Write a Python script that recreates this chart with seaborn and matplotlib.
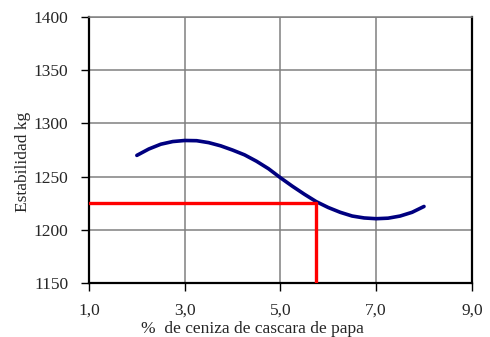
import pandas as pd
import matplotlib
matplotlib.use("Agg")
import matplotlib.pyplot as plt
import seaborn as sns

# values
ceniza = [2.0, 2.25, 2.5, 2.75, 3.0, 3.25, 3.5, 3.75, 4.0, 4.25, 4.5, 4.75, 5.0,
          5.25, 5.5, 5.75, 6.0, 6.25, 6.5, 6.75, 7.0, 7.25, 7.5, 7.75, 8.0]
estabilidad = [1270, 1276, 1280.5, 1283, 1284, 1283.8, 1282, 1279, 1275, 1270.5,
               1264.5, 1257.5, 1249, 1241, 1233.5, 1226.5, 1221, 1216.5, 1213,
               1211.2, 1210.5, 1211, 1213, 1216.5, 1222]

# red guide lines (optimum)
optimo_x = 5.75
optimo_y = 1225

x_ticks = [1, 3, 5, 7, 9]
x_labels = ["1,0", "3,0", "5,0", "7,0", "9,0"]
y_ticks = [1150, 1200, 1250, 1300, 1350, 1400]

data = pd.DataFrame({"ceniza": ceniza, "estabilidad": estabilidad})

sns.set_theme(style="white")
plt.rcParams["font.family"] = ["Liberation Serif", "DejaVu Serif"]

fig = plt.figure(figsize=(4.9, 3.37), dpi=100)
ax = fig.add_axes([0.1816, 0.160, 0.7814, 0.7894])

ax.set_xlim(1, 9)
ax.set_ylim(1150, 1400)
ax.set_xticks(x_ticks)
ax.set_xticklabels(x_labels)
ax.set_yticks(y_ticks)
ax.grid(True, color="#808080", linewidth=1.1)
ax.set_axisbelow(True)

sns.lineplot(data=data, x="ceniza", y="estabilidad", ax=ax, color="#000080",
             linewidth=2.6, solid_capstyle="round", solid_joinstyle="round", zorder=3)

ax.plot([1, optimo_x], [optimo_y, optimo_y], color="red", linewidth=2.4, zorder=4)
ax.plot([optimo_x, optimo_x], [1150, optimo_y], color="red", linewidth=2.4, zorder=4)

ax.set_xlabel("%  de ceniza de cascara de papa", fontsize=12.5)
ax.set_ylabel("Estabilidad kg", fontsize=12.5)
ax.xaxis.set_label_coords(0.428, -0.143)
ax.yaxis.set_label_coords(-0.152, 0.455)

ax.tick_params(axis="both", which="both", direction="out", length=6, width=1,
               color="black", labelsize=12.5, bottom=True, left=True)
ax.tick_params(axis="x", pad=8)
ax.tick_params(axis="y", pad=9)

for side in ["left", "bottom", "right"]:
    ax.spines[side].set_color("black")
    ax.spines[side].set_linewidth(1.6)
ax.spines["top"].set_color("#808080")
ax.spines["top"].set_linewidth(1.1)

plt.savefig("out.png", dpi=100)
